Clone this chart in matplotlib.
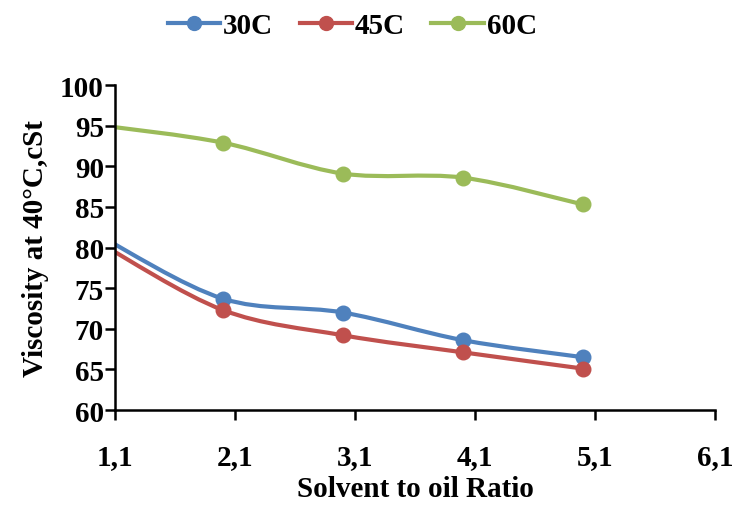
import numpy as np
from matplotlib import pyplot as plt
from matplotlib.path import Path
from matplotlib.patches import PathPatch

plt.rcParams['font.family'] = ['Liberation Serif', 'DejaVu Serif']
plt.rcParams['font.weight'] = 'bold'

ratio = [1, 2, 3, 4, 5]
visc_30c = [81.2, 73.7, 72.0, 68.6, 66.5]
visc_45c = [80.3, 72.3, 69.2, 67.1, 65.1]
visc_60c = [95.0, 92.9, 89.1, 88.6, 85.3]

series = [('30C', visc_30c, '#4F81BD'),
          ('45C', visc_45c, '#C0504D'),
          ('60C', visc_60c, '#9BBB59')]

x_ticks = [1.1, 2.1, 3.1, 4.1, 5.1, 6.1]
y_ticks = [60, 65, 70, 75, 80, 85, 90, 95, 100]


def smooth_path(xs, ys):
    # Excel-like smoothed line: cubic bezier between points (catmull-rom style)
    pts = np.column_stack([xs, ys]).astype(float)
    n = len(pts)
    verts = [pts[0]]
    codes = [Path.MOVETO]
    for i in range(n - 1):
        p0 = pts[i - 1] if i > 0 else pts[i]
        p1 = pts[i]
        p2 = pts[i + 1]
        p3 = pts[i + 2] if i + 2 < n else pts[i + 1]
        c1 = p1 + (p2 - p0) / 6
        c2 = p2 - (p3 - p1) / 6
        verts += [c1, c2, p2]
        codes += [Path.CURVE4] * 3
    return Path(verts, codes)


fig = plt.figure(figsize=(7.34, 5.06), dpi=100)
ax = fig.add_axes([0.1567, 0.1877, 0.8173, 0.6423])

for name, vals, color in series:
    patch = PathPatch(smooth_path(ratio, vals), facecolor='none', edgecolor=color,
                      lw=3.0, capstyle='round', zorder=2)
    ax.add_patch(patch)
    ax.plot(ratio, vals, linestyle='none', marker='o', markersize=10.5,
            color=color, zorder=3)
    # legend proxy
    ax.plot([], [], '-o', color=color, lw=3.0, markersize=10, label=name)

ax.set_xlim(1.1, 6.1)
ax.set_ylim(60, 100)
ax.set_xticks(x_ticks)
ax.set_xticklabels([f'{v:.1f}'.replace('.', ',') for v in x_ticks])
ax.set_yticks(y_ticks)

for s in ['top', 'right']:
    ax.spines[s].set_visible(False)
for s in ['left', 'bottom']:
    ax.spines[s].set_linewidth(1.8)
ax.tick_params(axis='both', direction='out', length=7, width=1.8, labelsize=21)
ax.tick_params(axis='x', pad=17)
ax.tick_params(axis='y', pad=1)

ax.set_xlabel('Solvent to oil Ratio', fontsize=21, fontweight='bold', labelpad=3)
ax.set_ylabel('Viscosity at 40°C,cSt', fontsize=21, fontweight='bold', labelpad=8)

fig.legend(loc='center', bbox_to_anchor=(0.48, 0.948), ncol=3, frameon=False,
           handlelength=1.8, columnspacing=0.9, handletextpad=0.1,
           prop={'weight': 'bold', 'size': 21})

fig.savefig('out.png', dpi=100)
